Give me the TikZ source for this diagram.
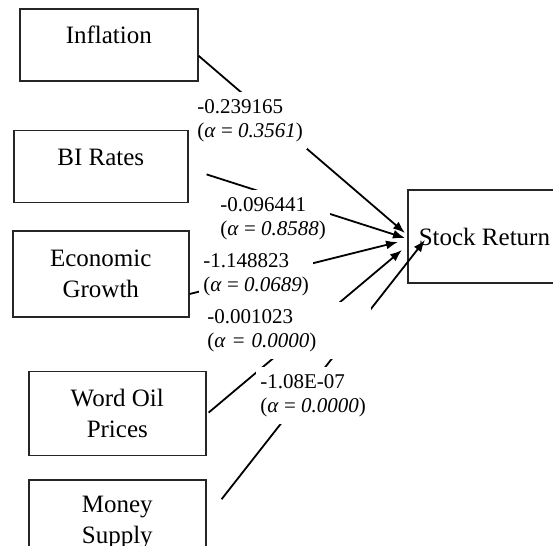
\documentclass[tikz,border=0pt]{standalone}
\usepackage{fontspec}
\setmainfont{Liberation Serif}
\usetikzlibrary{arrows.meta, positioning, calc}

\begin{document}
\begin{tikzpicture}[x=0.5pt, y=-0.5pt,
    var/.style={rectangle, draw=black!85, line width=0.8pt, inner xsep=0pt, align=center, font=\fontsize{12.5}{15.5}\selectfont},
    varone/.style={var, text height=12pt, text depth=13pt, inner ysep=5.5pt},
    vartwo/.style={var, minimum height=42pt},
    coef/.style={fill=white, align=left, inner xsep=2pt, inner ysep=3.5pt, anchor=north west, font=\fontsize{10.5}{12}\selectfont},
    line/.style={draw=black, -{Latex[length=6pt,width=4.5pt]}, line width=0.9pt}]

    \useasboundingbox (0,0) rectangle (553,546);

    \node [varone, minimum width=89pt, anchor=north west] (inflation) at (19,8) {Inflation};
    \node [varone, minimum width=87pt, below=24pt of inflation.south west, anchor=north west, xshift=-3pt] (birate) {BI Rates};
    \node [vartwo, minimum width=88pt, minimum height=43pt, below=13.5pt of birate.south west, anchor=north west, xshift=-0.5pt] (economy) {Economic\\Growth};
    \node [vartwo, minimum width=88.5pt, below=26.5pt of economy.south west, anchor=north west, xshift=8pt] (oil) {Word Oil\\Prices};
    \node [vartwo, minimum width=88.5pt, below=11.5pt of oil.south west, anchor=north west] (money) {Money\\Supply};
    \node [var, anchor=west, inner xsep=5.5pt, minimum height=46.5pt] (stock) at (407,236.5) {\makebox[72pt][l]{Stock Return}};

    \path [line] ($(inflation.east)+(0,11)$) -- ($(stock.west)+(-2,-3.5)$);
    \path [line] ($(birate.east)+(18,8)$) -- ($(stock.west)+(-2,1.5)$);
    \path [line] ($(economy.east)+(0,20)$) -- ($(stock.west)+(-9,5.5)$);
    \path [line] ($(oil.east)+(2,-1)$) -- ($(stock.west)+(-5,13.5)$);
    \path [line] ($(money.east)+(15,-23)$) -- ($(stock.west)+(18,3.5)$);

    % coefficients sit on top of the arrows
    \node [coef] (inflcoef) at (193,92) {-0.239165\\(\textit{α} = \textit{0.3561})};
    \node [coef] (bicoef) at (216,190) {-0.096441\\(\textit{α} = \textit{0.8588})};
    \node [coef] (econcoef) at (199,246) {-1.148823\\(\textit{α} = \textit{0.0689})};
    \node [coef, text width=80pt] (oilcoef) at (203,302) {-0.001023\\(\textit{α} = \textit{0.0000})};
    \node [coef] (moneycoef) at (256,367) {-1.08E-07\\(\textit{α} = \textit{0.0000})};
\end{tikzpicture}
\end{document}
